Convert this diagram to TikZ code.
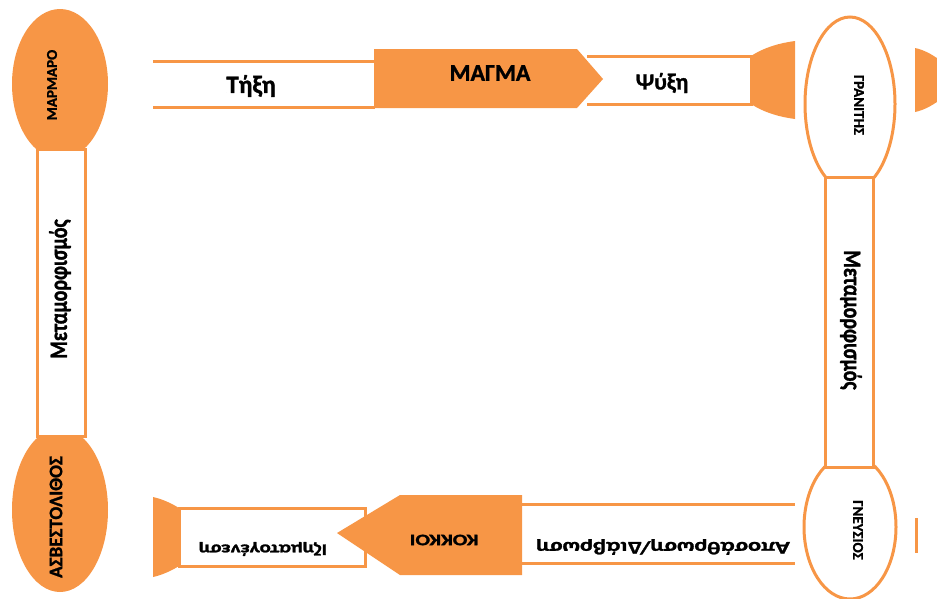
\documentclass[tikz,border=0pt]{standalone}
\usepackage{fontspec}
\setmainfont{Carlito}[BoldFeatures={FakeBold=1.3}]
\definecolor{rockorange}{RGB}{247,150,70}

\begin{document}
\begin{tikzpicture}[x=1pt,y=-1pt,line width=3pt,
  band/.style={draw=rockorange,fill=white},
  blob/.style={fill=rockorange},
  lbl/.style={font=\fontsize{#1}{#1}\selectfont\bfseries,inner sep=0pt}]
\useasboundingbox (0,0) rectangle (937,598);
\clip (0,0) rectangle (937,598);
% left column
\fill[blob] (60,84) ellipse [x radius=48,y radius=75];
\fill[blob] (60,510) ellipse [x radius=48,y radius=82];
\draw[band] (37,149) rectangle (85,436);
\node[lbl=15,rotate=90] (marmaro) at (52,85) {ΜΑΡΜΑΡΟ};
\node[lbl=19,rotate=90] (asvestolithos) at (56,517) {ΑΣΒΕΣΤΟΛΙΘΟΣ};
\node[lbl=20,rotate=90] (metamL) at (60,289) {\scalebox{1}[1.25]{Μεταμορφισμός}};
% top row
\draw[rockorange] (153,61) -- (375,61) (153,107) -- (375,107);
\node[lbl=25] (tixi) at (251,86) {Τήξη};
\draw[band] (587,56) -- (751,56) -- (751,104) -- (587,104);
\fill[blob] (374,49) -- (577,49) -- (603,79) -- (577,108) -- (374,108) -- cycle;
\node[lbl=24] (magma) at (490,73) {ΜΑΓΜΑ};
\node[lbl=23] (psyxi) at (662,83) {Ψύξη};
\fill[blob] (751,56) .. controls (765,47) and (780,43) .. (795,41) -- (795,119)
  .. controls (780,117) and (765,113) .. (751,104) -- cycle;
\fill[blob] (915,48) .. controls (925,50) and (935,56) .. (945,64) -- (945,96)
  .. controls (935,104) and (925,110) .. (915,112) -- cycle;
% right column
\draw[band] (850,104) ellipse [x radius=45,y radius=87];
\draw[band] (850,527) ellipse [x radius=46,y radius=72];
\draw[band] (825,177) rectangle (873,467);
\node[lbl=15,rotate=-90] (granitis) at (859,105) {ΓΡΑΝΙΤΗΣ};
\node[lbl=15,rotate=-90] (gneysios) at (858,530) {ΓΝΕΥΣΙΟΣ};
\node[lbl=20,rotate=-90] (metamR) at (851,320) {\scalebox{1}[1.25]{Μεταμορφισμός}};
\draw[rockorange] (916,518) -- (916,553);
% bottom row
\draw[rockorange] (522,504) -- (795,504) (522,563) -- (795,563);
\node[lbl=18,rotate=180] (diavrosi) at (663,547) {\scalebox{1.35}[1]{Αποσάθρωση/Διάβρωση}};
\draw[band] (179,508) rectangle (365,566);
\fill[blob] (522,495) -- (400,495) -- (337,533) -- (400,575) -- (522,575) -- cycle;
\node[lbl=16,rotate=180] (kokkoi) at (444,540) {\scalebox{1.35}[1]{ΚΟΚΚΟΙ}};
\node[lbl=16,rotate=180] (izimatogenesi) at (263,549) {\scalebox{1.3}[1]{Ιζηματογένεση}};
\fill[blob] (179,508) .. controls (171,503) and (162,499) .. (153,497) -- (153,577)
  .. controls (162,575) and (171,571) .. (179,566) -- cycle;
\end{tikzpicture}
\end{document}
